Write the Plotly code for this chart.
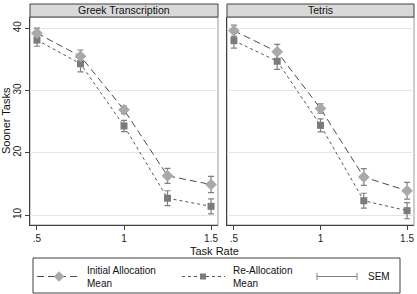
import plotly.graph_objects as go

W, H = 417, 294
task_rate = [0.5, 0.75, 1.0, 1.25, 1.5]
panels = ["Greek Transcription", "Tetris"]
greek_initial = [39.2, 35.5, 26.9, 16.3, 14.9]
greek_initial_sem = [0.8, 1.0, 0.6, 1.2, 1.3]
greek_realloc = [38.1, 34.3, 24.3, 12.7, 11.4]
greek_realloc_sem = [1.0, 1.3, 0.9, 1.2, 1.2]
tetris_initial = [39.6, 36.2, 27.1, 16.1, 13.9]
tetris_initial_sem = [0.9, 1.2, 0.75, 1.35, 1.35]
tetris_realloc = [38.0, 34.7, 24.4, 12.3, 10.7]
tetris_realloc_sem = [1.2, 1.3, 1.05, 1.2, 1.3]
x_ticks = [0.5, 1.0, 1.5]
x_ticklabels = [".5", "1", "1.5"]
y_ticks = [10, 20, 30, 40]
legend_labels = ["Initial Allocation<br>Mean", "Re-Allocation<br>Mean", "SEM"]

FONT = "Liberation Sans, Arial, sans-serif"
C_INIT = "#a9a9a9"
C_RE = "#7b7b7b"
C_ERR = "#808080"

def px(x):
    return x / W

def py(y):
    return 1 - y / H

fig = go.Figure()
series = [
    (greek_initial, greek_initial_sem, greek_realloc, greek_realloc_sem, "x", "y"),
    (tetris_initial, tetris_initial_sem, tetris_realloc, tetris_realloc_sem, "x2", "y2"),
]
for ini, ini_s, re, re_s, xa, ya in series:
    fig.add_trace(go.Scatter(
        x=task_rate, y=re, xaxis=xa, yaxis=ya, mode="lines+markers",
        line=dict(color="#555555", width=1, dash="dot"),
        marker=dict(symbol="square", size=7, color=C_RE),
        error_y=dict(type="data", array=re_s, color=C_ERR, thickness=1.2, width=3),
        showlegend=False))
    fig.add_trace(go.Scatter(
        x=task_rate, y=ini, xaxis=xa, yaxis=ya, mode="lines+markers",
        line=dict(color="#4a4a4a", width=1, dash="7px,4px"),
        marker=dict(symbol="diamond", size=9, color=C_INIT),
        error_y=dict(type="data", array=ini_s, color=C_ERR, thickness=1.2, width=3),
        showlegend=False))

# legend samples drawn on a hidden axis restricted to the legend box
lg_x0, lg_x1, lg_y0, lg_y1 = 33, 400, 258, 293
LY = 276.5
fig.add_trace(go.Scatter(x=[37, 80], y=[LY, LY], xaxis="x3", yaxis="y3", mode="lines",
                         line=dict(color="#4a4a4a", width=1, dash="7px,4px"), showlegend=False))
fig.add_trace(go.Scatter(x=[59], y=[LY], xaxis="x3", yaxis="y3", mode="markers",
                         marker=dict(symbol="diamond", size=8, color=C_INIT), showlegend=False))
fig.add_trace(go.Scatter(x=[182, 225], y=[LY, LY], xaxis="x3", yaxis="y3", mode="lines",
                         line=dict(color="#555555", width=1, dash="dot"), showlegend=False))
fig.add_trace(go.Scatter(x=[203], y=[LY], xaxis="x3", yaxis="y3", mode="markers",
                         marker=dict(symbol="square", size=6, color=C_RE), showlegend=False))
fig.add_trace(go.Scatter(x=[317, 357], y=[LY, LY], xaxis="x3", yaxis="y3", mode="lines",
                         line=dict(color=C_ERR, width=1), showlegend=False))
fig.add_trace(go.Scatter(x=[317, 357], y=[LY, LY], xaxis="x3", yaxis="y3", mode="markers",
                         marker=dict(symbol="line-ns", size=5, line=dict(color=C_ERR, width=1)),
                         showlegend=False))

yd = [py(225), py(17)]
axis_common = dict(showline=True, linecolor="#404040", linewidth=1.3, mirror=False,
                   ticks="outside", ticklen=4, tickcolor="#404040", zeroline=False,
                   tickfont=dict(family=FONT, size=10, color="#222"))
fig.update_layout(
    width=W, height=H, margin=dict(l=0, r=0, t=0, b=0),
    paper_bgcolor="white", plot_bgcolor="rgba(0,0,0,0)",
    font=dict(family=FONT, color="#222"),
    xaxis=dict(domain=[px(30), px(218)], range=[0.46, 1.54], tickvals=x_ticks,
               ticktext=x_ticklabels, anchor="y", showgrid=False, **axis_common),
    xaxis2=dict(domain=[px(227), px(414)], range=[0.46, 1.54], tickvals=x_ticks,
                ticktext=x_ticklabels, anchor="y2", showgrid=False, **axis_common),
    yaxis=dict(domain=yd, range=[8.4, 41.8], tickvals=y_ticks, anchor="x", tickangle=-90,
               showgrid=True, gridcolor="#e6e6e6", gridwidth=1, **axis_common),
    yaxis2=dict(domain=yd, range=[8.4, 41.8], tickvals=y_ticks, anchor="x2",
                showticklabels=False, showgrid=True, gridcolor="#e6e6e6", gridwidth=1,
                showline=True, linecolor="#404040", linewidth=1.3, ticks="", zeroline=False),
    xaxis3=dict(domain=[0, 1], range=[0, W], visible=False, anchor="y3", fixedrange=True),
    yaxis3=dict(domain=[0, py(250)], range=[H, 250], visible=False, anchor="x3", fixedrange=True),
)

shapes = []
for x0, x1 in [(30, 218), (227, 414)]:
    shapes.append(dict(type="rect", xref="paper", yref="paper", x0=px(x0), x1=px(x1),
                       y0=py(225), y1=py(17), line=dict(color="#9a9a9a", width=1),
                       fillcolor="rgba(0,0,0,0)", layer="below"))
    shapes.append(dict(type="rect", xref="paper", yref="paper", x0=px(x0), x1=px(x1),
                       y0=py(17), y1=py(4), line=dict(color="#404040", width=1),
                       fillcolor="#d9d9d9"))
shapes.append(dict(type="rect", xref="paper", yref="paper", x0=px(lg_x0), x1=px(lg_x1),
                   y0=py(lg_y1), y1=py(lg_y0), line=dict(color="#404040", width=1),
                   fillcolor="rgba(0,0,0,0)"))
fig.update_layout(shapes=shapes)

ann = []
for name, (x0, x1) in zip(panels, [(30, 218), (227, 414)]):
    ann.append(dict(text=name, xref="paper", yref="paper", x=px((x0 + x1) / 2), y=py(10.5),
                    showarrow=False, font=dict(family=FONT, size=10.5, color="#111"),
                    xanchor="center", yanchor="middle"))
ann.append(dict(text="Task Rate", xref="paper", yref="paper", x=px(214), y=py(251),
                showarrow=False, font=dict(family=FONT, size=11, color="#111"),
                xanchor="center", yanchor="middle"))
ann.append(dict(text="Sooner Tasks", xref="paper", yref="paper", x=px(6), y=py(121),
                showarrow=False, textangle=-90, font=dict(family=FONT, size=11, color="#111"),
                xanchor="center", yanchor="middle"))
for lbl, x in zip(legend_labels, [86, 232, 367]):
    lines = lbl.split("<br>")
    if len(lines) == 1:
        ys = [LY]
    else:
        ys = [LY - 6.5, LY + 6.5]
    for line, yy in zip(lines, ys):
        ann.append(dict(text=line, xref="paper", yref="paper", x=px(x), y=py(yy),
                        showarrow=False, align="left", borderpad=0,
                        font=dict(family=FONT, size=10, color="#111"),
                        xanchor="left", yanchor="middle"))
fig.update_layout(annotations=ann)

fig.write_html("out.html")
